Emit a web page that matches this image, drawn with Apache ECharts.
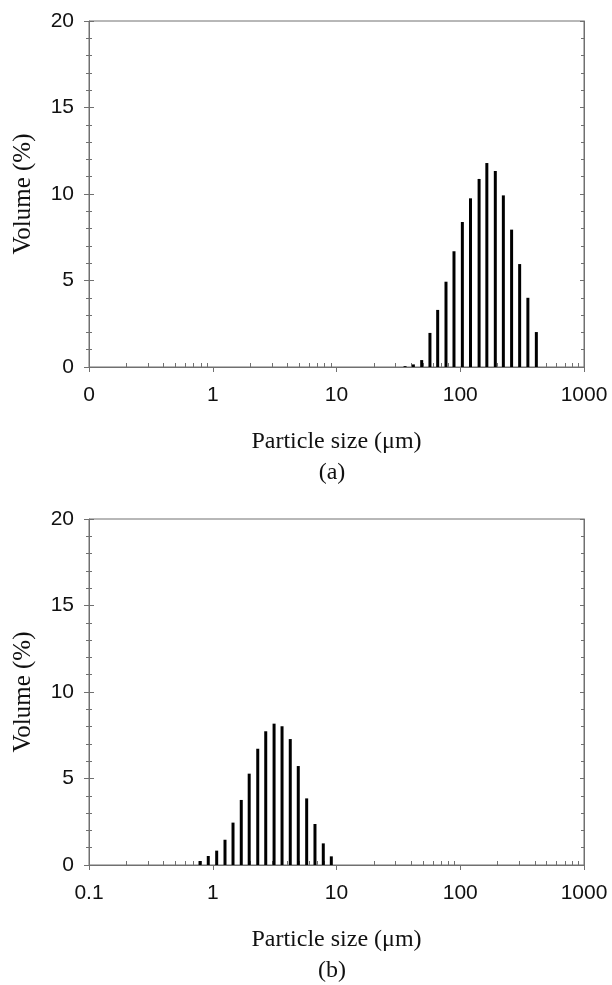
<!DOCTYPE html>
<html>
<head>
<meta charset="utf-8">
<script src="https://cdn.jsdelivr.net/npm/echarts@6/dist/echarts.min.js"></script>
<style>html,body{margin:0;padding:0;background:#fff}#c{width:612px;height:985px}</style>
</head>
<body>
<div id="c"></div>
<script>
// ---- data ----
var sizesA = [35.8, 41.8, 48.8, 56.9, 65.7, 76.7, 89, 104, 121, 142, 164, 192, 223, 260, 302, 352, 412];
var volA   = [0.05, 0.15, 0.40, 1.97, 3.30, 4.93, 6.69, 8.38, 9.75, 10.87, 11.79, 11.33, 9.92, 7.94, 5.95, 4.00, 2.02];
var sizesB = [0.789, 0.920, 1.076, 1.256, 1.458, 1.70, 1.97, 2.31, 2.68, 3.13, 3.63, 4.23, 4.91, 5.74, 6.70, 7.82, 9.08];
var volB   = [0.23, 0.52, 0.83, 1.46, 2.45, 3.76, 5.28, 6.72, 7.73, 8.17, 8.02, 7.28, 5.72, 3.85, 2.37, 1.25, 0.50];
var xTickValues = [0.1, 1, 10, 100, 1000];
var xTickLabelsA = ['0', '1', '10', '100', '1000'];
var xTickLabelsB = ['0.1', '1', '10', '100', '1000'];
var panelLabels = ['(a)', '(b)'];
var xTitle = 'Particle size (\u03bcm)';
var yTitle = 'Volume (%)';

var minorX = [];
[0.1, 1, 10, 100].forEach(function (d) { for (var k = 2; k <= 9; k++) minorX.push(+(d * k).toPrecision(3)); });

var AX = '#707070';
var SANS = '"Liberation Sans", Arial, sans-serif';
var SERIF = '"Liberation Serif", "Times New Roman", serif';
var tops = [21, 519];
var grids = [], xAxes = [], yAxes = [], series = [], graphics = [];

function zip(a, b) { return a.map(function (v, i) { return [v, b[i]]; }); }

[0, 1].forEach(function (p) {
  var labels = p === 0 ? xTickLabelsA : xTickLabelsB;
  grids.push({ left: 89, top: tops[p], width: 495, height: 346, show: true, borderColor: AX, borderWidth: 1, backgroundColor: 'transparent' });
  var xi = xAxes.length, yi = yAxes.length;
  // main x axis
  xAxes.push({
    type: 'log', logBase: 10, min: 0.1, max: 1000, gridIndex: p, position: 'bottom',
    axisLine: { show: true, onZero: false, lineStyle: { color: AX, width: 1 } },
    axisTick: { show: true, inside: false, length: 5, lineStyle: { color: AX }, customValues: xTickValues },
    minorTick: { show: false },
    splitLine: { show: false },
    axisLabel: {
      show: true, margin: 18, customValues: xTickValues,
      fontFamily: SANS, fontSize: 21, color: '#111',
      formatter: function (v) { var i = xTickValues.indexOf(+v); return i >= 0 ? labels[i] : ''; }
    },
    name: xTitle, nameLocation: 'middle', nameGap: 63,
    nameTextStyle: { fontFamily: SERIF, fontSize: 24, color: '#111' }
  });
  // minor x ticks (inside)
  xAxes.push({
    type: 'log', logBase: 10, min: 0.1, max: 1000, gridIndex: p, position: 'bottom',
    axisLine: { show: false, onZero: false },
    axisTick: { show: true, inside: true, length: 4, lineStyle: { color: AX }, customValues: minorX },
    splitLine: { show: false }, axisLabel: { show: false }
  });
  // left y axis (outside ticks + labels)
  yAxes.push({
    type: 'value', min: 0, max: 20, interval: 5, gridIndex: p, position: 'left',
    axisLine: { show: true, onZero: false, lineStyle: { color: AX, width: 1 } },
    axisTick: { show: true, inside: false, length: 5, lineStyle: { color: AX } },
    minorTick: { show: true, splitNumber: 5, length: 3, lineStyle: { color: AX } },
    splitLine: { show: false },
    axisLabel: { show: true, margin: 15, fontFamily: SANS, fontSize: 21, color: '#111' },
    name: yTitle, nameLocation: 'middle', nameGap: 53,
    nameTextStyle: { fontFamily: SERIF, fontSize: 25, color: '#111' }
  });
  // left y axis (inside ticks)
  yAxes.push({
    type: 'value', min: 0, max: 20, interval: 5, gridIndex: p, position: 'left',
    axisLine: { show: false, onZero: false },
    axisTick: { show: true, inside: true, length: 5, lineStyle: { color: AX } },
    minorTick: { show: true, splitNumber: 5, length: 3, lineStyle: { color: AX } },
    splitLine: { show: false }, axisLabel: { show: false }
  });
  // right y axis (inside ticks)
  yAxes.push({
    type: 'value', min: 0, max: 20, interval: 5, gridIndex: p, position: 'right',
    axisLine: { show: true, onZero: false, lineStyle: { color: AX, width: 1 } },
    axisTick: { show: true, inside: true, length: 4, lineStyle: { color: AX } },
    minorTick: { show: true, splitNumber: 5, length: 3, lineStyle: { color: AX } },
    splitLine: { show: false }, axisLabel: { show: false }
  });
  series.push({
    type: 'custom', xAxisIndex: xi, yAxisIndex: yi,
    data: p === 0 ? zip(sizesA, volA) : zip(sizesB, volB),
    encode: { x: 0, y: 1 },
    renderItem: function (params, api) {
      var top = api.coord([api.value(0), api.value(1)]);
      var base = api.coord([api.value(0), 0]);
      return { type: 'rect', shape: { x: top[0] - 1.5, y: top[1], width: 3, height: base[1] - top[1] }, style: { fill: '#000' } };
    },
    silent: true, animation: false
  });
  graphics.push({
    type: 'text', x: 332, y: tops[p] + 452,
    style: { text: panelLabels[p], font: '24px "Liberation Serif"', fill: '#111', textAlign: 'center', textVerticalAlign: 'middle' }
  });
});

var chart = echarts.init(document.getElementById('c'), null, { renderer: 'canvas' });
chart.setOption({
  animation: false,
  grid: grids, xAxis: xAxes, yAxis: yAxes, series: series, graphic: graphics
});
</script>
</body>
</html>
